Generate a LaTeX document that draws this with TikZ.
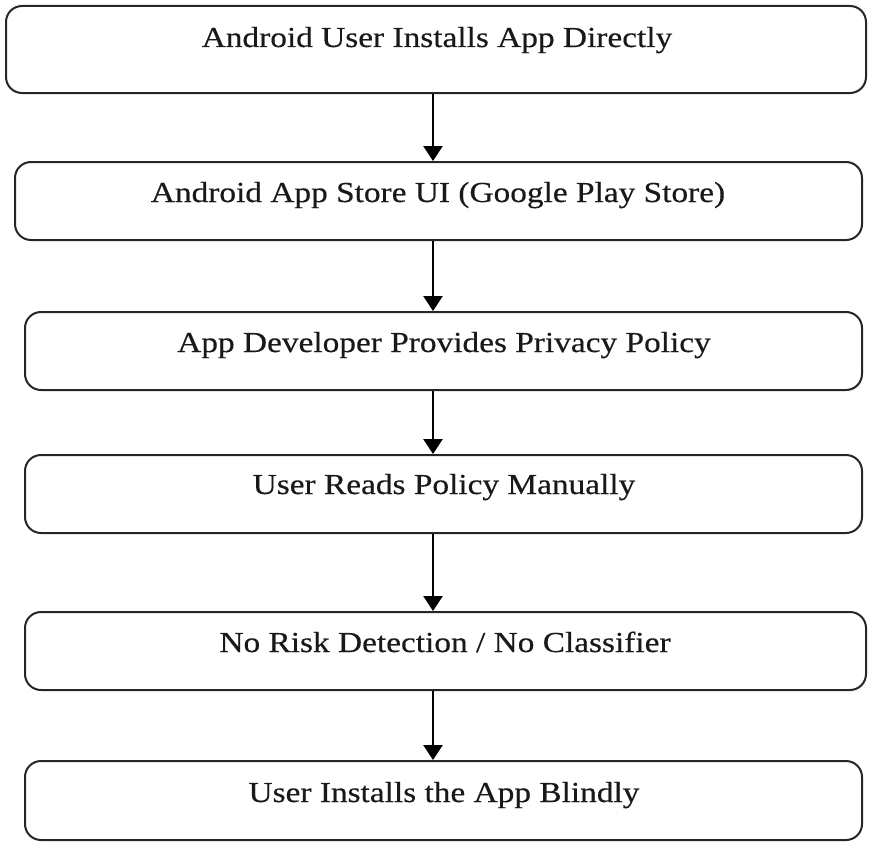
\documentclass[tikz,border=0pt]{standalone}
\usepackage{fontspec}
\setmainfont{Liberation Serif}
\newfontfamily\widefont[FakeStretch=1.15,FakeBold=0.4]{Liberation Serif}
\usetikzlibrary{arrows.meta}
\begin{document}
\begin{tikzpicture}[x=1pt,y=-1pt,
  stepbox/.style={draw=black!85,line width=2pt,rounded corners=16pt,inner sep=0pt},
  lbl/.style={anchor=base,font=\widefont\fontsize{29}{34}\selectfont,inner sep=0pt,text=black!90},
  arr/.style={line width=2.8pt,-{Triangle[width=19pt,length=15pt]}}]
\useasboundingbox (0,0) rectangle (869,843);
\coordinate (ax) at (433,0);
\node[minimum width=860pt,minimum height=87pt,stepbox] (b1) at (436,49.5) {};
\node[minimum width=847pt,minimum height=78pt,stepbox] (b2) at (438.5,201) {};
\node[minimum width=837pt,minimum height=78pt,stepbox] (b3) at (443.5,351) {};
\node[minimum width=837pt,minimum height=78pt,stepbox] (b4) at (443.5,494) {};
\node[minimum width=841pt,minimum height=78pt,stepbox] (b5) at (445.5,651) {};
\node[minimum width=837pt,minimum height=79pt,stepbox] (b6) at (443.5,800.5) {};
\node[lbl] (t1) at (437,47) {Android User Installs App Directly};
\node[lbl] (t2) at (438,202) {Android App Store UI (Google Play Store)};
\node[lbl] (t3) at (444,352) {App Developer Provides Privacy Policy};
\node[lbl] (t4) at (444,494) {User Reads Policy Manually};
\node[lbl] (t5) at (445,652) {No Risk Detection / No Classifier};
\node[lbl] (t6) at (444,802) {User Installs the App Blindly};
\draw[arr] (b1.south -| ax) -- (b2.north -| ax);
\draw[arr] (b2.south -| ax) -- (b3.north -| ax);
\draw[arr] (b3.south -| ax) -- (b4.north -| ax);
\draw[arr] (b4.south -| ax) -- (b5.north -| ax);
\draw[arr] (b5.south -| ax) -- (b6.north -| ax);
\end{tikzpicture}
\end{document}
